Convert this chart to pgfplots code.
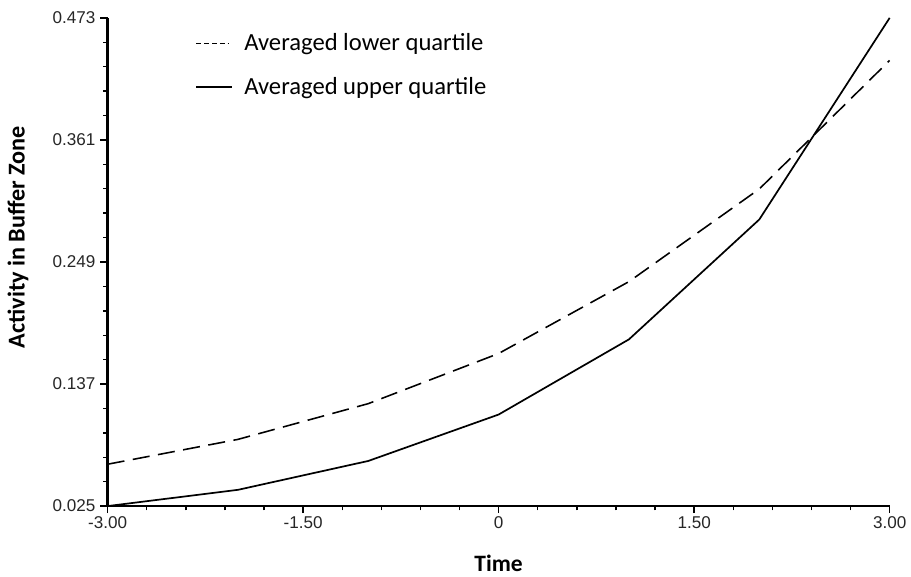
\documentclass[border=0pt]{standalone}
\usepackage{fontspec}
\setmainfont{Carlito}
\newfontfamily\arialfont{Liberation Sans}
\usepackage{pgfplots}
\pgfplotsset{compat=1.18}

\begin{document}
\begin{tikzpicture}
\begin{axis}[
    scale only axis,
    width=549.5pt,
    height=343pt,
    xmin=-3, xmax=3,
    ymin=0.025, ymax=0.473,
    axis lines=left,
    axis line style={-, line width=1.8pt},
    xtick={-3,-1.5,0,1.5,3},
    xticklabels={-3.00,-1.50,0,1.50,3.00},
    ytick={0.025,0.137,0.249,0.361,0.473},
    yticklabels={0.025,0.137,0.249,0.361,0.473},
    minor x tick num=4,
    minor y tick num=4,
    tick align=outside,
    major tick length=5pt,
    minor tick length=3pt,
    tick style={black, line width=1pt},
    ticklabel style={font=\arialfont\fontsize{12}{14}\selectfont, text=black!85},
    xticklabel style={yshift=1pt},
    xlabel={Time},
    ylabel={Activity in Buffer Zone},
    every axis x label/.style={at={(axis description cs:0.5,0)}, yshift=-40.5pt, anchor=center,
        font=\bfseries\fontsize{16.5}{18}\selectfont},
    every axis y label/.style={at={(axis description cs:0,0.551)}, xshift=-63pt, rotate=90, anchor=center,
        font=\bfseries\fontsize{17}{19}\selectfont},
    clip=false,
    legend style={at={(axis description cs:0.112,0.974)}, anchor=north west, draw=none, fill=none,
        font=\fontsize{17.3}{19}\selectfont, row sep=13pt, inner sep=0pt,
        /tikz/every odd column/.append style={column sep=6pt}},
    legend cell align=left,
]
\addplot[black, line width=1.1pt, dash pattern=on 12pt off 6pt,
    legend image code/.code={\draw[black, line width=1pt, dash pattern=on 3.5pt off 2pt] (0pt,0pt) -- (23pt,0pt);}]
    coordinates {
    (-3, 0.0634)
    (-2, 0.0862)
    (-1, 0.1190)
    (0, 0.1650)
    (1, 0.2310)
    (2, 0.3160)
    (3, 0.4340)
};
\addlegendentry{Averaged lower quartile}

\addplot[black, line width=1.2pt,
    legend image code/.code={\draw[black, line width=1.3pt] (0pt,0pt) -- (25pt,0pt);}]
    coordinates {
    (-3, 0.0250)
    (-2, 0.0399)
    (-1, 0.0664)
    (0, 0.1090)
    (1, 0.1780)
    (2, 0.2880)
    (3, 0.4730)
};
\addlegendentry{Averaged upper quartile}

\path (axis description cs:-0.1376,-0.1408) rectangle (axis description cs:1.0229,1.0367);
\end{axis}
\end{tikzpicture}
\end{document}
